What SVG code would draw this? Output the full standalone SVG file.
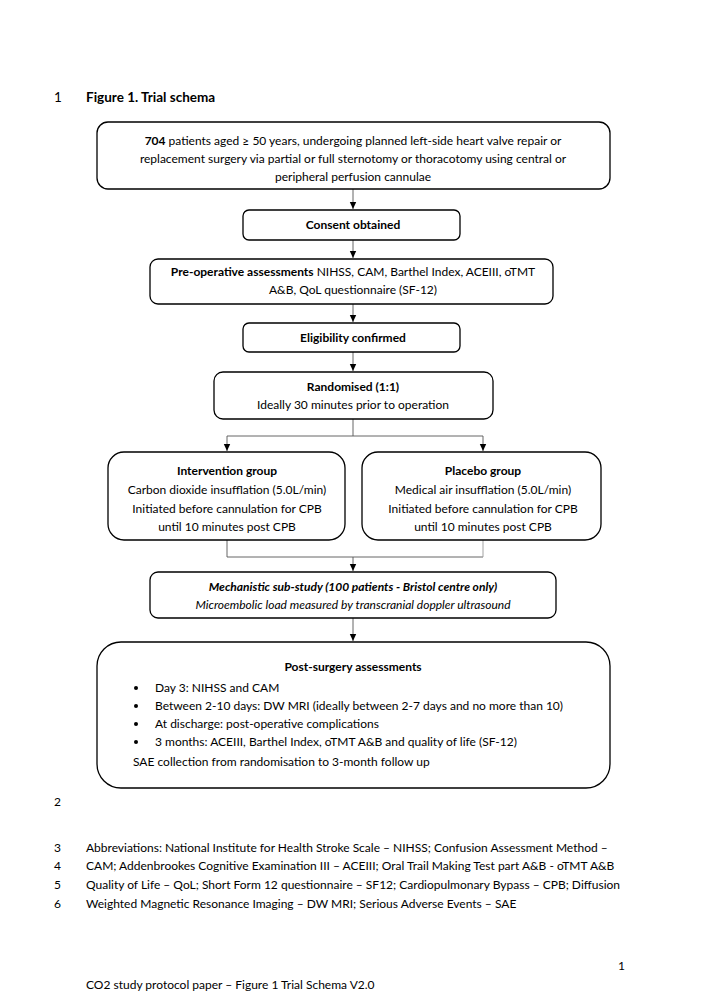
<svg xmlns="http://www.w3.org/2000/svg" width="708" height="1001" viewBox="0 0 708 1001">
<defs>
<marker id="ah" markerWidth="8" markerHeight="8" refX="7" refY="4" orient="auto" markerUnits="userSpaceOnUse">
<path d="M0,0.8 L7,4 L0,7.2 Z" fill="#000"/>
</marker>
<style>
text{font-family:Lato,"Carlito","Liberation Sans",sans-serif;font-size:12px;fill:#000}
.b{font-weight:bold}
.i{font-style:italic}
.c{text-anchor:middle}
.t{font-size:13.5px}
.box{fill:#fff;stroke:#000;stroke-width:1.3}
.con{fill:none;stroke:#555;stroke-width:0.9}
.lt{stroke:#999}
.arr{fill:none;stroke:#555;stroke-width:0.9;marker-end:url(#ah)}
</style>
</defs>
<rect width="708" height="1001" fill="#fff"/>

<g id="header">
<text x="54" y="102" class="t">1</text>
<text x="86" y="102" class="b t">Figure 1. Trial schema</text>
</g>

<g id="connectors">
<line class="arr" x1="353" y1="189" x2="353" y2="209"/>
<line class="arr" x1="353" y1="240" x2="353" y2="258"/>
<line class="arr" x1="353" y1="304" x2="353" y2="322"/>
<line class="arr" x1="353" y1="352" x2="353" y2="371"/>
<polyline class="con" points="353,419 353,436"/>
<polyline class="arr" points="353,436 227,436 227,451"/>
<polyline class="con" points="353,436 483,436"/>
<line class="arr lt" x1="483" y1="436" x2="483" y2="451"/>
<polyline class="con" points="227,540 227,557 483,557"/>
<line class="con lt" x1="483" y1="557" x2="483" y2="540"/>
<line class="arr" x1="353" y1="557" x2="353" y2="571"/>
<line class="arr" x1="353" y1="618" x2="353" y2="641"/>
</g>

<g id="n-patients">
<rect class="box" x="97" y="122" width="513" height="67" rx="11"/>
<text x="353" y="145" class="c"><tspan class="b">704</tspan> patients aged ≥ 50 years, undergoing planned left-side heart valve repair or</text>
<text x="353" y="163" class="c">replacement surgery via partial or full sternotomy or thoracotomy using central or</text>
<text x="353" y="181" class="c">peripheral perfusion cannulae</text>
</g>

<g id="n-consent">
<rect class="box" x="243" y="210" width="217" height="30" rx="6"/>
<text x="353" y="229" class="c b">Consent obtained</text>
</g>

<g id="n-preop">
<rect class="box" x="150" y="259" width="403" height="45" rx="8"/>
<text x="353" y="276" class="c"><tspan class="b">Pre-operative assessments</tspan> NIHSS, CAM, Barthel Index, ACEIII, oTMT</text>
<text x="353" y="294" class="c">A&amp;B, QoL questionnaire (SF-12)</text>
</g>

<g id="n-eligibility">
<rect class="box" x="243" y="323" width="217" height="29" rx="6"/>
<text x="353" y="342" class="c b">Eligibility confirmed</text>
</g>

<g id="n-randomised">
<rect class="box" x="214" y="372" width="279" height="47" rx="9"/>
<text x="353" y="391" class="c b">Randomised (1:1)</text>
<text x="353" y="409" class="c">Ideally 30 minutes prior to operation</text>
</g>

<g id="n-intervention">
<rect class="box" x="108" y="452" width="237" height="88" rx="16"/>
<text x="227" y="475" class="c b">Intervention group</text>
<text x="227" y="494" class="c">Carbon dioxide insufflation (5.0L/min)</text>
<text x="227" y="513" class="c">Initiated before cannulation for CPB</text>
<text x="227" y="531" class="c">until 10 minutes post CPB</text>
</g>

<g id="n-placebo">
<rect class="box" x="362" y="452" width="239" height="88" rx="16"/>
<text x="483" y="475" class="c b">Placebo group</text>
<text x="483" y="494" class="c">Medical air insufflation (5.0L/min)</text>
<text x="483" y="513" class="c">Initiated before cannulation for CPB</text>
<text x="483" y="531" class="c">until 10 minutes post CPB</text>
</g>

<g id="n-mechanistic">
<rect class="box" x="150" y="572" width="406" height="46" rx="8"/>
<text x="353" y="591" class="c b i">Mechanistic sub-study (100 patients - Bristol centre only)</text>
<text x="353" y="609" class="c i">Microembolic load measured by transcranial doppler ultrasound</text>
</g>

<g id="n-post">
<rect class="box" x="97" y="642" width="513" height="146" rx="24"/>
<text x="353" y="671" class="c b">Post-surgery assessments</text>
<circle cx="136" cy="688" r="2"/>
<text x="155" y="692">Day 3: NIHSS and CAM</text>
<circle cx="136" cy="706" r="2"/>
<text x="155" y="710">Between 2-10 days: DW MRI (ideally between 2-7 days and no more than 10)</text>
<circle cx="136" cy="724" r="2"/>
<text x="155" y="728">At discharge: post-operative complications</text>
<circle cx="136" cy="742" r="2"/>
<text x="155" y="746">3 months: ACEIII, Barthel Index, oTMT A&amp;B and quality of life (SF-12)</text>
<text x="133" y="766">SAE collection from randomisation to 3-month follow up</text>
</g>

<g id="footer">
<text x="54" y="806">2</text>
<text x="54" y="852">3</text>
<text x="86" y="852">Abbreviations: National Institute for Health Stroke Scale – NIHSS; Confusion Assessment Method –</text>
<text x="54" y="870">4</text>
<text x="86" y="870">CAM; Addenbrookes Cognitive Examination III – ACEIII; Oral Trail Making Test part A&amp;B -  oTMT A&amp;B</text>
<text x="54" y="889">5</text>
<text x="86" y="889">Quality of Life – QoL; Short Form 12 questionnaire – SF12; Cardiopulmonary Bypass – CPB; Diffusion</text>
<text x="54" y="908">6</text>
<text x="86" y="908">Weighted Magnetic Resonance Imaging – DW MRI; Serious Adverse Events – SAE</text>
<text x="618" y="970">1</text>
<text x="86" y="989">CO2 study protocol paper – Figure 1 Trial Schema V2.0</text>
</g>
</svg>
